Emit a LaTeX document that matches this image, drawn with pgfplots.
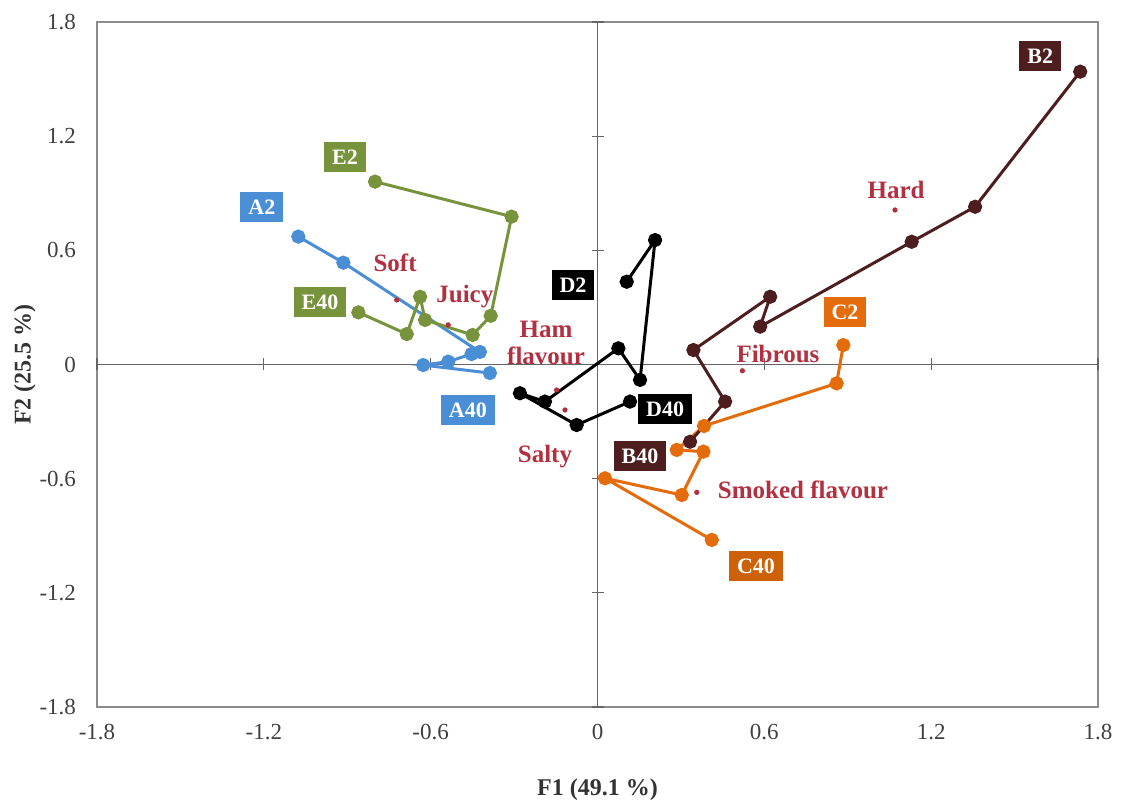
\documentclass[border=0pt]{standalone}
\usepackage{pgfplots}
\pgfplotsset{compat=1.18}
\usepackage{fontspec}
\setmainfont{Liberation Serif}
\definecolor{cA}{HTML}{4A8FD6}
\definecolor{cB}{HTML}{4E1E1E}
\definecolor{cC}{HTML}{E46C0A}
\definecolor{cD}{HTML}{000000}
\definecolor{cE}{HTML}{77933C}
\definecolor{attr}{HTML}{B2303F}
\begin{document}
\begin{tikzpicture}
\useasboundingbox (-48.5pt,-50pt) rectangle (512.5pt,353.5pt);
\begin{axis}[
  at={(0,0)}, anchor=south west,
  width=500.5pt, height=342.5pt, scale only axis,
  xmin=-1.8, xmax=1.8, ymin=-1.8, ymax=1.8,
  axis line style={draw=black!45, line width=0.8pt},
  xtick={-1.8,-1.2,-0.6,0,0.6,1.2,1.8},
  ytick={-1.8,-1.2,-0.6,0,0.6,1.2,1.8},
  major tick length=0pt,
  /pgf/number format/assume math mode=true,
  /pgf/number format/fixed, /pgf/number format/precision=1,
  tick label style={font=\fontsize{11.5}{13}\selectfont, text=black!75},
  yticklabel style={xshift=-7pt},
  xticklabel style={yshift=-5pt},
  xlabel={\textbf{F1 (49.1 \%)}},
  ylabel={\textbf{F2 (25.5 \%)}},
  xlabel style={at={(axis description cs:0.5,-0.121)}, anchor=center, font=\fontsize{12}{14}\selectfont, text=black!80},
  ylabel style={at={(axis description cs:-0.072,0.5)}, anchor=center, rotate=0, font=\fontsize{12}{14}\selectfont, text=black!80},
  clip=false,
]
% zero lines with their small tick marks
\draw[black!60, line width=0.6pt] (axis cs:-1.8,0) -- (axis cs:1.8,0);
\draw[black!60, line width=0.6pt] (axis cs:0,-1.8) -- (axis cs:0,1.8);
\pgfplotsinvokeforeach{-1.8,-1.2,-0.6,0.6,1.2,1.8}{
  \draw[black!60, line width=0.6pt] ([yshift=-3pt]axis cs:#1,0) -- ([yshift=3pt]axis cs:#1,0);
  \draw[black!60, line width=0.6pt] ([xshift=-3pt]axis cs:0,#1) -- ([xshift=3pt]axis cs:0,#1);
}
% A (blue)
\addplot[cA, line width=1.5pt, mark=*, mark size=2.8pt] coordinates {
  (-1.076,0.672) (-0.914,0.535) (-0.423,0.066) (-0.453,0.055)
  (-0.537,0.015) (-0.627,-0.003) (-0.387,-0.045)};
% E (green)
\addplot[cE, line width=1.5pt, mark=*, mark size=2.8pt] coordinates {
  (-0.800,0.961) (-0.309,0.777) (-0.384,0.256) (-0.449,0.155)
  (-0.620,0.234) (-0.638,0.356) (-0.686,0.160) (-0.860,0.274)};
% D (black)
\addplot[cD, line width=1.5pt, mark=*, mark size=2.8pt] coordinates {
  (0.105,0.435) (0.207,0.654) (0.153,-0.081) (0.075,0.085)
  (-0.189,-0.195) (-0.279,-0.151) (-0.075,-0.318) (0.117,-0.195)};
% C (orange)
\addplot[cC, line width=1.5pt, mark=*, mark size=2.8pt] coordinates {
  (0.884,0.102) (0.860,-0.099) (0.383,-0.323) (0.285,-0.449)
  (0.381,-0.458) (0.303,-0.686) (0.027,-0.598) (0.411,-0.922)};
% B (dark brown)
\addplot[cB, line width=1.5pt, mark=*, mark size=2.8pt] coordinates {
  (1.736,1.539) (1.358,0.829) (1.130,0.645) (0.585,0.199)
  (0.621,0.356) (0.345,0.076) (0.459,-0.195) (0.333,-0.406)};
% attributes
\addplot[attr, only marks, mark=*, mark size=1.1pt] coordinates {
  (-0.722,0.339) (-0.537,0.208) (-0.147,-0.134) (-0.117,-0.239)
  (0.521,-0.033) (0.357,-0.672) (1.070,0.812)};
\begin{scope}[every node/.style={text=attr, font=\bfseries\fontsize{12.5}{13.5}\selectfont}]
\node at (axis cs:-0.728,0.533) {Soft};
\node at (axis cs:-0.477,0.355) {Juicy};
\node[align=center] at (axis cs:-0.185,0.113) {Ham\\flavour};
\node at (axis cs:-0.189,-0.486) {Salty};
\node at (axis cs:0.649,0.055) {Fibrous};
\node at (axis cs:0.739,-0.659) {Smoked flavour};
\node at (axis cs:1.074,0.917) {Hard};
\end{scope}
\begin{scope}[every node/.style={text=white, font=\bfseries\fontsize{11}{12}\selectfont, inner xsep=4pt, minimum height=15pt}]
\node[fill=cE] at (axis cs:-0.908,1.090) {E2};
\node[fill=cA] at (axis cs:-1.207,0.828) {A2};
\node[fill=cE] at (axis cs:-0.998,0.328) {E40};
\node[fill=cA] at (axis cs:-0.466,-0.239) {A40};
\node[fill=cD] at (axis cs:-0.088,0.418) {D2};
\node[fill=cD] at (axis cs:0.243,-0.234) {D40};
\node[fill=cB] at (axis cs:0.153,-0.481) {B40};
\node[fill=cC] at (axis cs:0.890,0.276) {C2};
\node[fill=cC!90!black] at (axis cs:0.570,-1.059) {C40};
\node[fill=cB] at (axis cs:1.592,1.621) {B2};
\end{scope}
\end{axis}
\end{tikzpicture}
\end{document}
